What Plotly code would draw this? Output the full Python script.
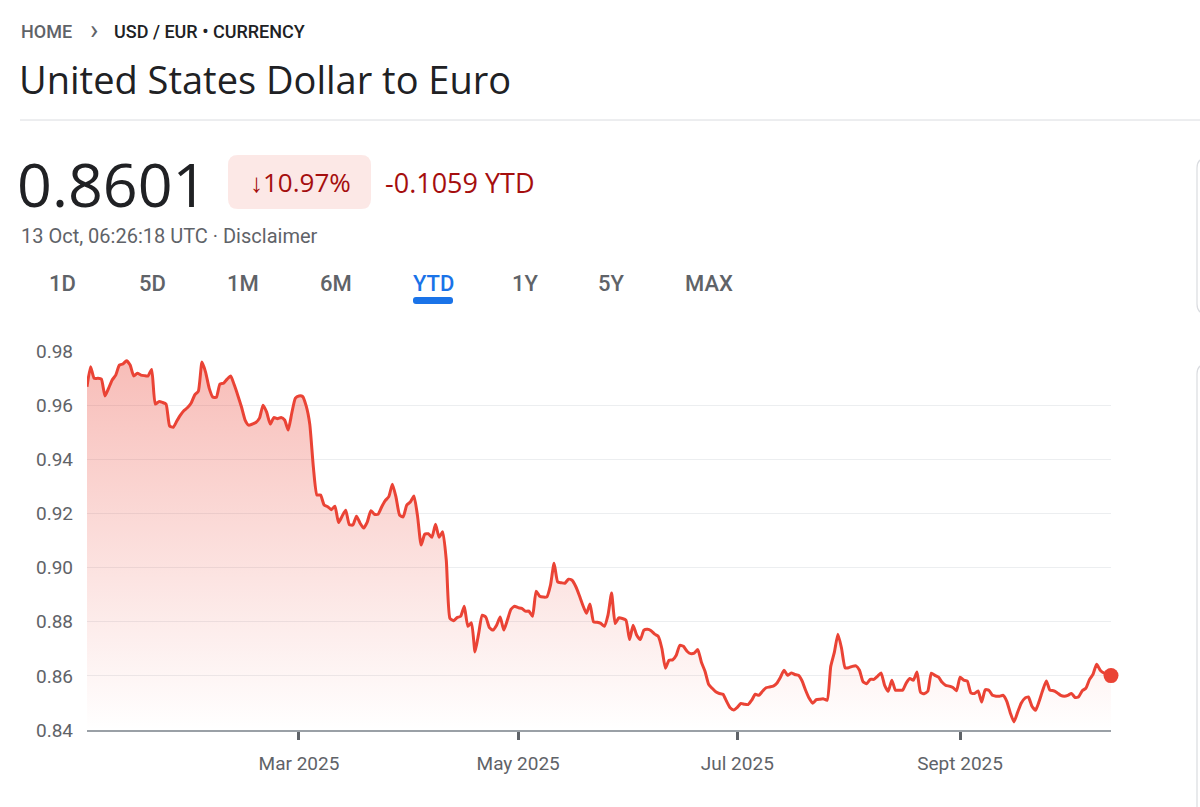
import pandas as pd
import plotly.graph_objects as go

# Global look
FONT_UI = "Roboto"
FONT_HEAD = "Open Sans"
RED = "#ea4335"
DARK_RED = "#a50e0e"
GREY = "#5f6368"
INK = "#202124"
BLUE = "#1a73e8"
RULE = "#dadce0"


# ---------------------------
# DATA
# ---------------------------

START_DATE = "2025-01-01"

# USD -> EUR rate, one reading per calendar day, 1 Jan .. 13 Oct 2025
RATES = [
    0.9668, 0.9742, 0.9699, 0.9699, 0.9696, 0.9634, 0.9662, 0.9693, 0.9711, 0.9748,
    0.9752, 0.9764, 0.9748, 0.9708, 0.9718, 0.9711, 0.9709, 0.9708, 0.9732, 0.9604,
    0.9613, 0.9610, 0.9604, 0.9523, 0.9518, 0.9541, 0.9563, 0.9580, 0.9591, 0.9608,
    0.9638, 0.9652, 0.9759, 0.9722, 0.9663, 0.9630, 0.9629, 0.9678, 0.9681, 0.9696,
    0.9708, 0.9674, 0.9635, 0.9593, 0.9545, 0.9526, 0.9530, 0.9536, 0.9552, 0.9600,
    0.9574, 0.9530, 0.9554, 0.9550, 0.9554, 0.9545, 0.9508, 0.9571, 0.9626, 0.9634,
    0.9632, 0.9597, 0.9530, 0.9371, 0.9268, 0.9268, 0.9231, 0.9225, 0.9214, 0.9227,
    0.9166, 0.9190, 0.9212, 0.9159, 0.9157, 0.9190, 0.9164, 0.9146, 0.9168, 0.9210,
    0.9197, 0.9197, 0.9224, 0.9247, 0.9262, 0.9308, 0.9260, 0.9194, 0.9187, 0.9231,
    0.9242, 0.9264, 0.9190, 0.9083, 0.9123, 0.9125, 0.9112, 0.9160, 0.9112, 0.9132,
    0.9027, 0.8813, 0.8804, 0.8815, 0.8820, 0.8857, 0.8783, 0.8796, 0.8688, 0.8756,
    0.8824, 0.8817, 0.8778, 0.8769, 0.8787, 0.8817, 0.8769, 0.8806, 0.8846, 0.8857,
    0.8852, 0.8849, 0.8839, 0.8839, 0.8820, 0.8913, 0.8894, 0.8891, 0.8892, 0.8935,
    0.9016, 0.8947, 0.8944, 0.8942, 0.8957, 0.8953, 0.8931, 0.8898, 0.8861, 0.8831,
    0.8865, 0.8799, 0.8798, 0.8794, 0.8783, 0.8824, 0.8906, 0.8793, 0.8814, 0.8812,
    0.8806, 0.8734, 0.8787, 0.8750, 0.8734, 0.8769, 0.8772, 0.8767, 0.8754, 0.8746,
    0.8701, 0.8628, 0.8658, 0.8659, 0.8676, 0.8713, 0.8709, 0.8691, 0.8682, 0.8684,
    0.8697, 0.8650, 0.8617, 0.8569, 0.8554, 0.8541, 0.8535, 0.8532, 0.8506, 0.8482,
    0.8474, 0.8484, 0.8498, 0.8495, 0.8494, 0.8510, 0.8532, 0.8528, 0.8543, 0.8556,
    0.8559, 0.8562, 0.8573, 0.8595, 0.8621, 0.8602, 0.8611, 0.8605, 0.8602, 0.8582,
    0.8547, 0.8517, 0.8499, 0.8512, 0.8514, 0.8515, 0.8510, 0.8635, 0.8687, 0.8754,
    0.8702, 0.8630, 0.8630, 0.8635, 0.8637, 0.8621, 0.8578, 0.8571, 0.8587, 0.8587,
    0.8598, 0.8611, 0.8565, 0.8543, 0.8584, 0.8547, 0.8547, 0.8547, 0.8573, 0.8590,
    0.8584, 0.8614, 0.8539, 0.8534, 0.8543, 0.8610, 0.8602, 0.8595, 0.8576, 0.8565,
    0.8562, 0.8557, 0.8545, 0.8595, 0.8584, 0.8581, 0.8537, 0.8535, 0.8544, 0.8503,
    0.8549, 0.8547, 0.8528, 0.8525, 0.8525, 0.8528, 0.8506, 0.8462, 0.8430, 0.8465,
    0.8499, 0.8517, 0.8522, 0.8488, 0.8473, 0.8506, 0.8547, 0.8581, 0.8547, 0.8545,
    0.8538, 0.8528, 0.8525, 0.8528, 0.8535, 0.8520, 0.8523, 0.8545, 0.8554, 0.8586,
    0.8606, 0.8643, 0.8621, 0.8611, 0.8608, 0.8601,
]

Y_RANGE = [0.84, 0.98]
Y_TICKS = [0.84, 0.86, 0.88, 0.90, 0.92, 0.94, 0.96, 0.98]
X_TICK_DATES = ["2025-03-01", "2025-05-01", "2025-07-01", "2025-09-01"]
X_TICK_TEXT = ["Mar 2025", "May 2025", "Jul 2025", "Sept 2025"]

RANGE_TABS = ["1D", "5D", "1M", "6M", "YTD", "1Y", "5Y", "MAX"]
ACTIVE_TAB = "YTD"

LAST_PRICE = "0.8601"
CHANGE_PCT = "↓10.97%"
CHANGE_ABS = "-0.1059 YTD"
STAMP = "13 Oct, 06:26:18 UTC · Disclaimer"

dates = pd.date_range(START_DATE, periods=len(RATES), freq="D")


# ---------------------------
# PAGE GEOMETRY (pixels -> paper)
# ---------------------------

W, H = 1200, 807
PL, PR, PT, PB = 87, 1111, 351, 730


def px(x):
    return (x - PL) / (PR - PL)


def py(y):
    return (PB - y) / (PB - PT)


def rounded_rect(x0, y0, x1, y1, r):
    # svg path in paper coords for a rounded box given in pixels
    pts = [
        ("M", [(x0 + r, y0)]),
        ("L", [(x1 - r, y0)]),
        ("Q", [(x1, y0), (x1, y0 + r)]),
        ("L", [(x1, y1 - r)]),
        ("Q", [(x1, y1), (x1 - r, y1)]),
        ("L", [(x0 + r, y1)]),
        ("Q", [(x0, y1), (x0, y1 - r)]),
        ("L", [(x0, y0 + r)]),
        ("Q", [(x0, y0), (x0 + r, y0)]),
    ]
    out = []
    for cmd, coords in pts:
        out.append(cmd + " ".join(f"{px(a):.5f},{py(b):.5f}" for a, b in coords))
    return " ".join(out) + " Z"


def label(text, x, y, size, color, anchor="left", family=FONT_UI, weight=400):
    return dict(
        text=text, x=px(x), y=py(y), xref="paper", yref="paper",
        xanchor=anchor, yanchor="middle", showarrow=False,
        font=dict(family=family, size=size, color=color, weight=weight),
    )


# ---------------------------
# CHART
# ---------------------------

fig = go.Figure()

fig.add_trace(go.Scatter(
    x=dates,
    y=RATES,
    mode="lines",
    line=dict(color=RED, width=3, shape="spline", smoothing=0.5),
    fill="tozeroy",
    fillgradient=dict(
        type="vertical",
        start=Y_RANGE[0],
        stop=Y_RANGE[1],
        colorscale=[[0, "rgba(234,67,53,0)"], [1, "rgba(234,67,53,0.36)"]],
    ),
    hoverinfo="skip",
    showlegend=False,
))

# dot on the latest value
fig.add_trace(go.Scatter(
    x=[dates[-1]],
    y=[RATES[-1]],
    mode="markers",
    marker=dict(color=RED, size=15),
    cliponaxis=False,
    hoverinfo="skip",
    showlegend=False,
))

fig.update_xaxes(
    range=[dates[0], dates[-1]],
    tickvals=X_TICK_DATES,
    ticktext=X_TICK_TEXT,
    showgrid=False,
    showline=True,
    linecolor="#9aa0a6",
    linewidth=1.5,
    ticks="outside",
    ticklen=8,
    tickwidth=2.5,
    tickcolor=GREY,
    ticklabelstandoff=7,
    tickfont=dict(family=FONT_UI, size=19, color=GREY),
)

fig.update_yaxes(
    range=Y_RANGE,
    tickvals=Y_TICKS,
    tickformat=".2f",
    showgrid=True,
    gridcolor="#eceef0",
    gridwidth=1,
    zeroline=False,
    ticks="",
    ticklabelstandoff=13,
    tickfont=dict(family=FONT_UI, size=19, color=GREY),
)

# ---------------------------
# HEADER
# ---------------------------

notes = [
    label("HOME", 19, 31, 18, GREY, weight=500),
    label("›", 88, 29, 28, GREY),
    label("USD / EUR • CURRENCY", 112, 31, 18, INK, weight=500),
    label("United States Dollar to Euro", 17, 79, 38, INK, family=FONT_HEAD),
    label(LAST_PRICE, 15, 183, 61, INK, family=FONT_HEAD),
    label(CHANGE_PCT, 300, 182, 26, DARK_RED, anchor="center", family=FONT_HEAD),
    label(CHANGE_ABS, 383, 182, 27, DARK_RED, family=FONT_HEAD),
    label(STAMP, 19, 236, 20, GREY),
]

tab_x = [62, 152, 243, 336, 433, 525, 611, 709]
for name, x in zip(RANGE_TABS, tab_x):
    colour = BLUE if name == ACTIVE_TAB else GREY
    notes.append(label(name, x, 283, 22, colour, anchor="center", weight=500))

shapes = [
    # divider under the title
    dict(type="line", xref="paper", yref="paper",
         x0=px(20), x1=px(1200), y0=py(120), y1=py(120),
         line=dict(color=RULE, width=1)),
    # change badge
    dict(type="path", xref="paper", yref="paper",
         path=rounded_rect(228, 155, 371, 209, 10),
         fillcolor="#fce8e6", line=dict(width=0)),
    # active tab underline
    dict(type="path", xref="paper", yref="paper",
         path=rounded_rect(413, 297, 453, 304, 3),
         fillcolor=BLUE, line=dict(width=0)),
    # side cards peeking in on the right
    dict(type="path", xref="paper", yref="paper",
         path=rounded_rect(1197, 158, 1320, 314, 10),
         fillcolor="white", line=dict(color=RULE, width=1.2)),
    dict(type="path", xref="paper", yref="paper",
         path=rounded_rect(1197, 364, 1320, 900, 10),
         fillcolor="white", line=dict(color=RULE, width=1.2)),
]

fig.update_layout(
    width=W,
    height=H,
    margin=dict(l=PL, r=W - PR, t=PT, b=H - PB),
    paper_bgcolor="white",
    plot_bgcolor="white",
    annotations=notes,
    shapes=shapes,
    font=dict(family=FONT_UI),
)

fig.write_html(
    "out.html",
    config={"displayModeBar": False},
    post_script="document.body.style.margin='0';",
)
